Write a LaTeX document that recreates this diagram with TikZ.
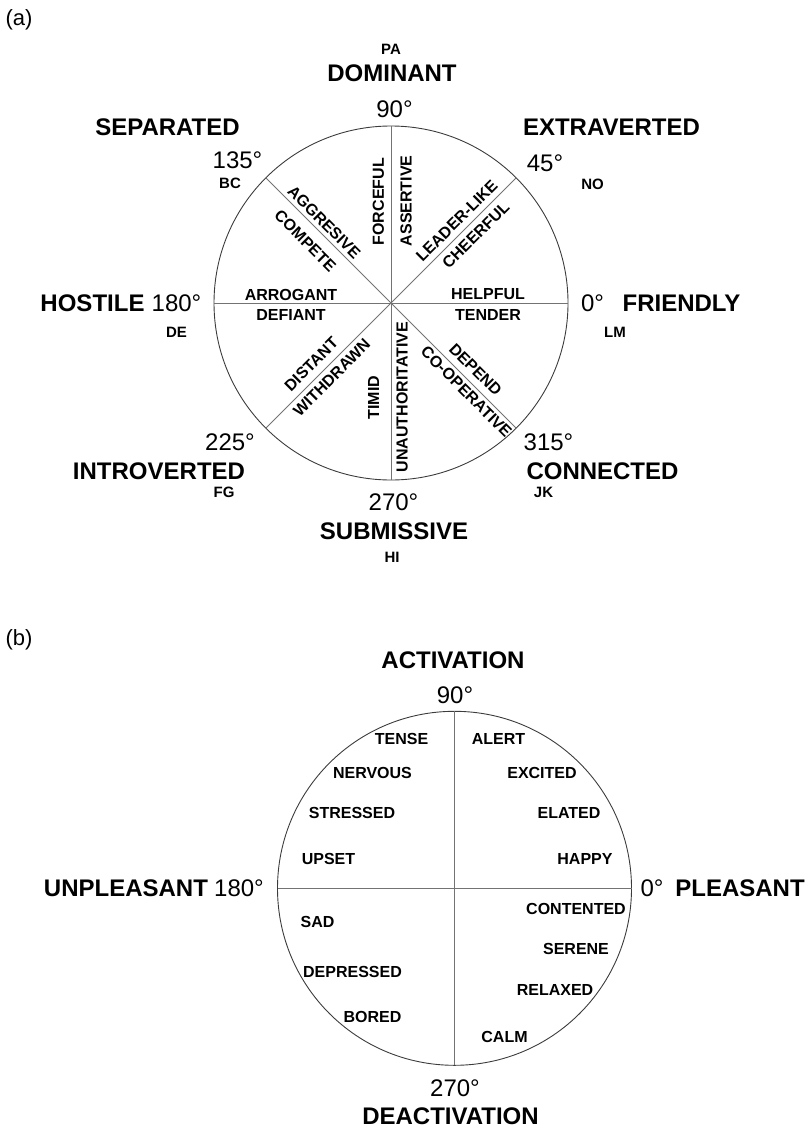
\documentclass[tikz,border=0pt]{standalone}
\usepackage{fontspec}
\setmainfont{Liberation Sans}
\definecolor{rimgray}{RGB}{60,60,60}
\definecolor{spokegray}{RGB}{115,115,115}
\tikzset{
  ring/.style={
    circle, draw=rimgray, line width=0.9pt,
    minimum size=354pt, inner sep=0pt, outer sep=0pt
  },
  spoke/.style={draw=spokegray, line width=0.9pt},
  axis label/.style={inner sep=0pt, font=\fontsize{24}{28}\selectfont\bfseries},
  angle label/.style={inner sep=0pt, font=\fontsize{24}{28}\selectfont},
  octant code/.style={inner sep=0pt, font=\fontsize{15}{18}\selectfont\bfseries},
  trait word/.style={inner sep=0pt, font=\fontsize{16}{19}\selectfont\bfseries},
  panel tag/.style={inner sep=0pt, font=\fontsize{22}{26}\selectfont}
}

\begin{document}
\begin{tikzpicture}[x=1pt, y=-1pt]
  \useasboundingbox (0,0) rectangle (810,1129);

  % (a) interpersonal circle
  \node[panel tag] (taga) at (19,20) {(a)};
  \node[ring] (circa) at (391,303) {};
  \foreach \a [evaluate=\a as \b using int(\a+180)] in {0,45,90,135}
    \draw[spoke] (circa.\a) -- (circa.\b);

  \node[octant code] (pa) at (391,49) {PA};
  \node[axis label] (dominant) at (392,73.5) {DOMINANT};
  \node[angle label] (deg90a) at (394.5,109) {90°};
  \node[axis label] (separated) at (167.5,127.5) {SEPARATED};
  \node[angle label] (deg135) at (237.5,160) {135°};
  \node[octant code] (bc) at (230,183.5) {BC};
  \node[axis label] (extraverted) at (611.5,127.5) {EXTRAVERTED};
  \node[angle label] (deg45) at (545,163.5) {45°};
  \node[octant code] (no) at (592.5,184) {NO};
  \node[axis label] (hostile) at (92.5,303.5) {HOSTILE};
  \node[angle label] (deg180a) at (176.5,303.5) {180°};
  \node[octant code] (de) at (176.5,332) {DE};
  \node[angle label] (deg0a) at (592.5,303.5) {0°};
  \node[axis label] (friendly) at (681.5,303.5) {FRIENDLY};
  \node[octant code] (lm) at (615,332) {LM};
  \node[angle label] (deg225) at (230,442.5) {225°};
  \node[axis label] (introverted) at (159,471) {INTROVERTED};
  \node[octant code] (fg) at (224,492) {FG};
  \node[angle label] (deg315) at (548.5,442.5) {315°};
  \node[axis label] (connected) at (602.5,471) {CONNECTED};
  \node[octant code] (jk) at (543.5,492) {JK};
  \node[angle label] (deg270a) at (393.5,502.5) {270°};
  \node[axis label] (submissive) at (394,531.5) {SUBMISSIVE};
  \node[octant code] (hi) at (392,557) {HI};

  % words along the spokes
  \node[trait word] (arrogant) at (291,294.5) {ARROGANT};
  \node[trait word] (defiant) at (291,314.5) {DEFIANT};
  \node[trait word] (helpful) at (488,294.5) {HELPFUL};
  \node[trait word] (tender) at (488,314.5) {TENDER};
  \node[trait word, rotate=90] (forceful) at (378.3,201.7) {FORCEFUL};
  \node[trait word, rotate=90] (assertive) at (406,200.8) {ASSERTIVE};
  \node[trait word, rotate=90] (timid) at (373.5,397.5) {TIMID};
  \node[trait word, rotate=90] (unauth) at (402,397) {UNAUTHORITATIVE};
  \node[trait word, rotate=45] (leaderlike) at (456.7,220.8) {LEADER-LIKE};
  \node[trait word, rotate=45] (cheerful) at (475.8,235) {CHEERFUL};
  \node[trait word, rotate=-45] (aggresive) at (324.2,222.2) {AGGRESIVE};
  \node[trait word, rotate=-45] (compete) at (305.3,240.8) {COMPETE};
  \node[trait word, rotate=45] (distant) at (311.2,364.2) {DISTANT};
  \node[trait word, rotate=45] (withdrawn) at (331.7,377.5) {WITHDRAWN};
  \node[trait word, rotate=-45] (depend) at (475.5,369.7) {DEPEND};
  \node[trait word, rotate=-45] (cooperative) at (466.3,391.7) {CO-OPERATIVE};

  % (b) affect circle
  \node[panel tag] (tagb) at (19,640) {(b)};
  \node[ring] (circb) at (454.5,888.3) {};
  \draw[spoke] (circb.0) -- (circb.180);
  \draw[spoke] (circb.90) -- (circb.270);

  \node[axis label] (activation) at (453,660) {ACTIVATION};
  \node[angle label] (deg90b) at (455,695) {90°};
  \node[axis label] (unpleasant) at (126,888) {UNPLEASANT};
  \node[angle label] (deg180b) at (239,888) {180°};
  \node[angle label] (deg0b) at (652,888) {0°};
  \node[axis label] (pleasant) at (740,888) {PLEASANT};
  \node[angle label] (deg270b) at (455,1088) {270°};
  \node[axis label] (deactivation) at (450.5,1116.5) {DEACTIVATION};

  \node[trait word] (tense) at (401.5,738.5) {TENSE};
  \node[trait word] (alert) at (498.5,738.5) {ALERT};
  \node[trait word] (nervous) at (372.5,772.5) {NERVOUS};
  \node[trait word] (excited) at (542,772.5) {EXCITED};
  \node[trait word] (stressed) at (352,812.5) {STRESSED};
  \node[trait word] (elated) at (569,812.5) {ELATED};
  \node[trait word] (upset) at (328.5,858.5) {UPSET};
  \node[trait word] (happy) at (585,858.5) {HAPPY};
  \node[trait word] (contented) at (576,908.5) {CONTENTED};
  \node[trait word] (sad) at (317.5,922) {SAD};
  \node[trait word] (serene) at (576,949) {SERENE};
  \node[trait word] (depressed) at (352.5,971.5) {DEPRESSED};
  \node[trait word] (relaxed) at (555,990) {RELAXED};
  \node[trait word] (bored) at (372.5,1016.5) {BORED};
  \node[trait word] (calm) at (504.5,1037) {CALM};
\end{tikzpicture}
\end{document}
